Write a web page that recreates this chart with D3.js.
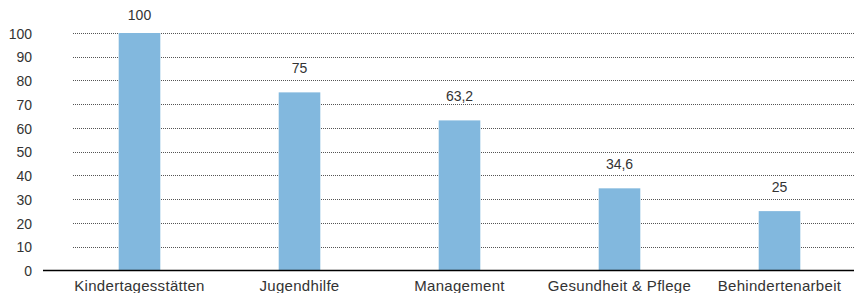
<!DOCTYPE html>
<html>
<head>
<meta charset="utf-8">
<script src="https://cdn.jsdelivr.net/npm/d3@7"></script>
<style>
  body { margin: 0; background: #fff; }
  svg { display: block; font-family: "Liberation Sans", Arial, sans-serif; }
  .val, .yax text { fill: #333; font-size: 14px; }
  .xax text { fill: #333; font-size: 15px; letter-spacing: 0.3px; }
</style>
</head>
<body>
<svg></svg>
<script>
var categories = ["Kindertagesstätten", "Jugendhilfe", "Management", "Gesundheit & Pflege", "Behindertenarbeit"];
var values = [100, 75, 63.2, 34.6, 25];
var valueLabels = ["100", "75", "63,2", "34,6", "25"];
var yTicks = [0, 10, 20, 30, 40, 50, 60, 70, 80, 90, 100];

var width = 854, height = 293;
var svg = d3.select("svg").attr("width", width).attr("height", height);

var x = d3.scaleBand().domain(categories).range([59.5, 859.5]).paddingInner(0.74).paddingOuter(0.37);
var y = d3.scaleLinear().domain([0, 100]).range([270.5, 33]);

// dotted grid
svg.append("g")
  .selectAll("line")
  .data(yTicks.slice(1))
  .enter().append("line")
  .attr("x1", 73).attr("x2", width)
  .attr("y1", function (d) { return Math.round(y(d)) + 0.5; })
  .attr("y2", function (d) { return Math.round(y(d)) + 0.5; })
  .attr("stroke", "#555")
  .attr("stroke-dasharray", "1,1");

// y labels
var yAxis = d3.axisLeft(y).tickValues(yTicks).tickSize(0).tickPadding(0);
svg.append("g")
  .attr("class", "yax")
  .attr("transform", "translate(32,0)")
  .call(yAxis)
  .call(function (g) { g.select(".domain").remove(); })
  .selectAll("text").attr("dy", "0.36em");

// bars
var bw = x.bandwidth();
svg.append("g")
  .selectAll("rect")
  .data(values)
  .enter().append("rect")
  .attr("x", function (d, i) { return x(categories[i]); })
  .attr("y", function (d) { return y(d); })
  .attr("width", bw)
  .attr("height", function (d) { return y(0) - y(d); })
  .attr("fill", "#82b8de");

// value labels
svg.append("g")
  .selectAll("text")
  .data(values)
  .enter().append("text")
  .attr("class", "val")
  .attr("x", function (d, i) { return x(categories[i]) + bw / 2; })
  .attr("y", function (d) { return Math.max(y(d) - 19, 20); })
  .attr("text-anchor", "middle")
  .text(function (d, i) { return valueLabels[i]; });

// x axis labels
var xAxis = d3.axisBottom(x).tickSize(0).tickPadding(0);
svg.append("g")
  .attr("class", "xax")
  .attr("transform", "translate(0,270)")
  .call(xAxis)
  .call(function (g) { g.select(".domain").remove(); })
  .selectAll("text").attr("dy", "21px");

svg.append("line")
  .attr("x1", 43).attr("x2", width)
  .attr("y1", 270.5).attr("y2", 270.5)
  .attr("stroke", "#000")
  .attr("stroke-width", 1.5);
</script>
</body>
</html>
